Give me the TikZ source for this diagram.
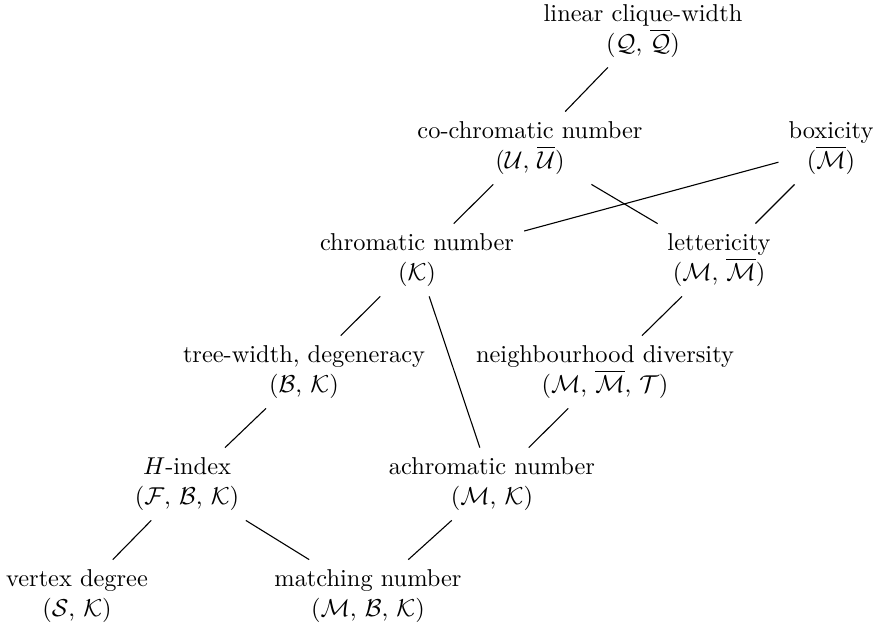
\documentclass[tikz,border=0pt]{standalone}
\begin{document}
\begin{tikzpicture}[x=0.41pt,y=-0.41pt,
  lbl/.style={align=center, inner sep=4pt, font=\fontsize{10}{12}\selectfont},
  edge/.style={line width=0.45pt}]
\useasboundingbox (0,0) rectangle (881,629);
\node[lbl] (lcw) at (643,31) {linear clique-width\\($\mathcal{Q}$, $\overline{\mathcal{Q}}$)};
\node[lbl] (co)  at (530,148) {co-chromatic number\\($\mathcal{U}$, $\overline{\mathcal{U}}$)};
\node[lbl] (box) at (831,148) {boxicity\\($\overline{\mathcal{M}}$)};
\node[lbl] (chr) at (417,260) {chromatic number\\($\mathcal{K}$)};
\node[lbl] (let) at (719,260) {lettericity\\($\mathcal{M}$, $\overline{\mathcal{M}}$)};
\node[lbl] (tw)  at (304,372) {tree-width, degeneracy\\($\mathcal{B}$, $\mathcal{K}$)};
\node[lbl] (nd)  at (605,372) {neighbourhood diversity\\($\mathcal{M}$, $\overline{\mathcal{M}}$, $\mathcal{T}$)};
\node[lbl] (hi)  at (187,484) {$H$-index\\($\mathcal{F}$, $\mathcal{B}$, $\mathcal{K}$)};
\node[lbl] (ach) at (492,484) {achromatic number\\($\mathcal{M}$, $\mathcal{K}$)};
\node[lbl] (vd)  at (77,596) {vertex degree\\($\mathcal{S}$, $\mathcal{K}$)};
\node[lbl] (mn)  at (368,596) {matching number\\($\mathcal{M}$, $\mathcal{B}$, $\mathcal{K}$)};
\draw[edge] (lcw) -- (co);
\draw[edge] (co) -- (chr);
\draw[edge] (co) -- (let);
\draw[edge] (box) -- (chr);
\draw[edge] (box) -- (let);
\draw[edge] (chr) -- (tw);
\draw[edge] (chr) -- (ach);
\draw[edge] (let) -- (nd);
\draw[edge] (tw) -- (hi);
\draw[edge] (nd) -- (ach);
\draw[edge] (hi) -- (vd);
\draw[edge] (hi) -- (mn);
\draw[edge] (ach) -- (mn);
\end{tikzpicture}
\end{document}
